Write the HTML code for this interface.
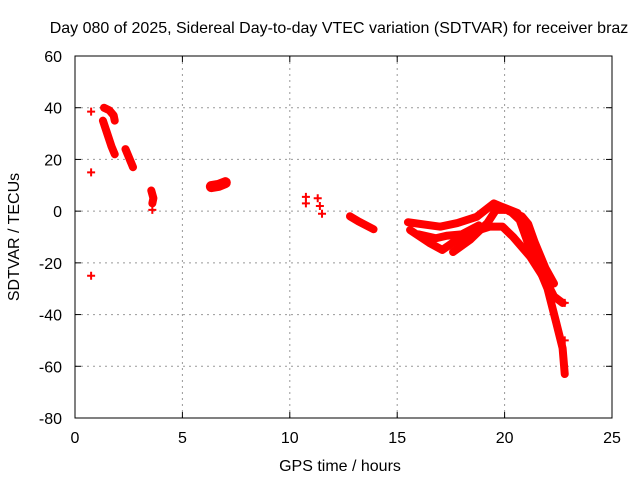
<!DOCTYPE html>
<html><head><meta charset="utf-8"><style>
body{margin:0;background:#fff}
svg{display:block;font-family:"Liberation Sans",sans-serif}
</style></head><body>
<svg id="chart" width="640" height="480">
<text x="339" y="33" font-size="16" text-anchor="middle">Day 080 of 2025, Sidereal Day-to-day VTEC variation (SDTVAR) for receiver braz</text>
<text x="340" y="471" font-size="16" text-anchor="middle">GPS time / hours</text>
<text transform="translate(19,237) rotate(-90)" font-size="16" text-anchor="middle">SDTVAR / TECUs</text>
<g id="grid"></g><g id="ticks"></g><g id="marks"></g>
<rect x="75" y="56" width="537" height="362" fill="none" stroke="#000"/>
</svg>
<script>
const xTicks=[0,5,10,15,20,25];
const yTicks=[60,40,20,0,-20,-40,-60,-80];
const tracks=[
[[1.35,40],[1.6,39],[1.8,37],[1.85,35]],
[[1.3,35],[1.5,30],[1.7,25],[1.85,22]],
[[2.35,24],[2.5,21],[2.7,17]],
[[3.55,8],[3.65,5],[3.6,3]],
[[6.35,9.5],[6.7,10],[7.0,11]],
[[12.8,-2],[13.2,-4],[13.9,-7]],
[[15.5,-4.3],[17.0,-6],[17.8,-4.6],[18.7,-2.2],[19.5,3],[19.9,1.6],[20.6,-0.7],[21.0,-7],[21.5,-20],[22.0,-30],[22.4,-43],[22.7,-53],[22.8,-63]],
[[15.6,-7.3],[16.5,-12.3],[17.1,-15],[17.8,-11],[18.4,-8.4],[19.3,-6],[19.9,-6],[20.4,-10],[21.2,-17.7],[21.8,-25.5]],
[[17.6,-15.8],[18.4,-11],[19.2,-4.6],[19.6,0.5],[20.2,0.5],[20.7,-3.4],[21.2,-15],[21.6,-21.6],[22.3,-33],[22.7,-35.5]],
[[16.0,-9],[16.8,-10.5],[17.3,-9.5],[18.0,-9],[18.8,-5.5]],
[[20.2,0],[20.8,-2],[21.1,-5],[21.4,-12],[21.9,-22],[22.3,-28]]
];
const points=[[0.75,38.5],[0.75,15],[0.75,-25],[3.6,0.5],[10.75,5.5],[10.75,3],[11.3,5],[11.4,2],[11.5,-1],[22.8,-35.5],[22.8,-50]];
const X=h=>75+h*537/25, Y=v=>56+(60-v)*362/140;
const NS="http://www.w3.org/2000/svg";
function mk(t,a,p){const e=document.createElementNS(NS,t);for(const k in a)e.setAttribute(k,a[k]);p.appendChild(e);return e;}
const g=document.getElementById('grid'),tk=document.getElementById('ticks'),m=document.getElementById('marks');
xTicks.forEach(t=>{const x=X(t);
 if(t>0&&t<25){const l=mk('line',{x1:x,x2:x,y1:56,y2:418,stroke:'#999','stroke-dasharray':'2,4'},g);
 
 }
 mk('line',{x1:x,x2:x,y1:418,y2:412,stroke:'#000'},tk);mk('line',{x1:x,x2:x,y1:56,y2:62,stroke:'#000'},tk);
 const tx=mk('text',{x:x,y:443,'font-size':16,'text-anchor':'middle'},tk);tx.textContent=t;
 
 });
yTicks.forEach(t=>{const y=Y(t);
 if(t<60&&t>-80){const l=mk('line',{x1:75,x2:612,y1:y,y2:y,stroke:'#999','stroke-dasharray':'2,4'},g);
 
 }
 mk('line',{x1:75,x2:81,y1:y,y2:y,stroke:'#000'},tk);mk('line',{x1:612,x2:606,y1:y,y2:y,stroke:'#000'},tk);
 const tx=mk('text',{x:62,y:y+6,'font-size':16,'text-anchor':'end'},tk);tx.textContent=t;
 
 });
tracks.forEach((tr,i)=>{
 const p=mk('polyline',{points:tr.map(d=>X(d[0])+','+Y(d[1])).join(' '),fill:'none',stroke:'#f00','stroke-width':i==4?11:8,'stroke-linejoin':'round','stroke-linecap':'round'},m);
 
 });
points.forEach(d=>{const x=X(d[0]),y=Y(d[1]);
 const p=mk('path',{d:`M${x-4},${y}H${x+4}M${x},${y-4}V${y+4}`,stroke:'#f00','stroke-width':2},m);
 
 });
</script>
</body></html>
